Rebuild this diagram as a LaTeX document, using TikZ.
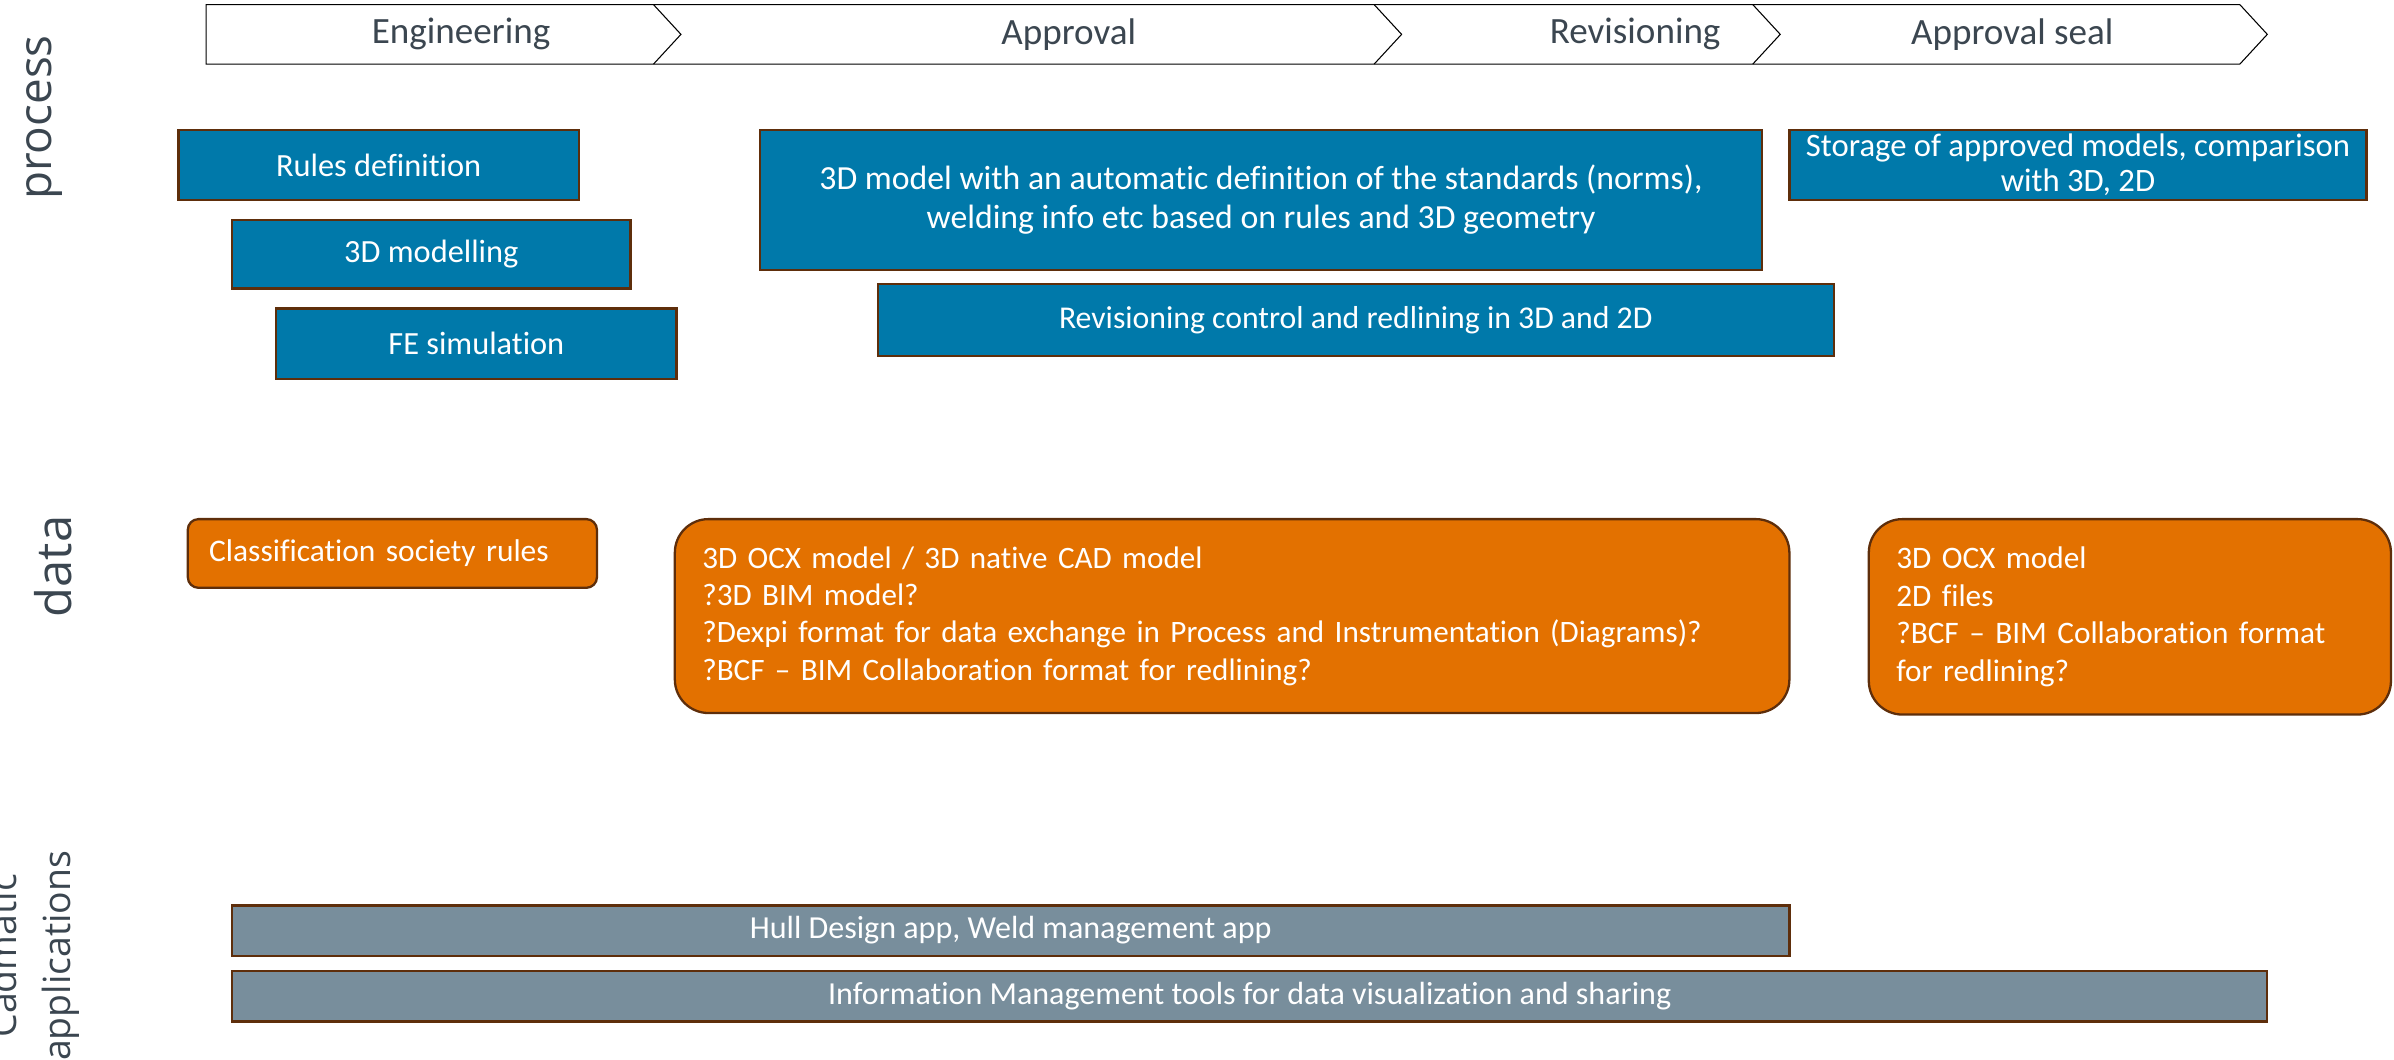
\documentclass[tikz,border=0pt]{standalone}
\usepackage{fontspec}
\setmainfont{Carlito}[Ligatures=NoCommon]
\newfontfamily\lanefont{Open Sans}
\usepackage{xcolor}
\usepackage{tikz}
\usetikzlibrary{positioning}
\definecolor{procblue}{HTML}{0079AA}
\definecolor{dataorange}{HTML}{E37100}
\definecolor{appgray}{HTML}{788E9C}
\definecolor{edgebrown}{HTML}{5E2E0B}
\definecolor{labelgray}{HTML}{3B4650}

\begin{document}
\begin{tikzpicture}[x=1pt, y=-1pt,
  box/.style={draw=edgebrown, line width=1.5pt, text=white, inner sep=0pt, align=center, font=\fontsize{21}{24.5}\selectfont},
  procbox/.style={box, fill=procblue},
  databox/.style={box, fill=dataorange, align=left},
  appbox/.style={box, fill=appgray},
  phase/.style={text=labelgray, inner sep=0pt, font=\fontsize{24.3}{26}\selectfont},
  lane/.style={text=labelgray, inner sep=0pt, rotate=90, align=center, font=\lanefont\fontsize{30}{30}\selectfont}]
\useasboundingbox (0,0) rectangle (1568,694);
\clip (0,0) rectangle (1568,694);

\draw[line width=0.7pt] (135,3) -- (1467,3) -- (1485,22.5) -- (1467,42) -- (135,42) -- cycle;
\foreach \xx in {428,900,1148}
  \draw[line width=0.7pt] (\xx,3) -- (\xx+18,22.5) -- (\xx,42);
\node[phase] (ph_eng) at (302,22.5) {Engineering};
\node[phase] (ph_appr) at (700,22.5) {Approval};
\node[phase] (ph_rev) at (1071,22.5) {Revisioning};
\node[phase] (ph_seal) at (1318,22.5) {Approval seal};

\node[lane] (lane_process) at (29,77) {process};
\node[lane, font=\lanefont\fontsize{32}{32}\selectfont] (lane_data) at (35,371) {data};
\node[lane, font=\lanefont\fontsize{24.5}{35}\selectfont] (lane_apps) at (22,626) {Cadmatic\\applications};

\node[procbox, minimum width=262, minimum height=46, font=\fontsize{21.2}{24}\selectfont] (rules_def) at (248,108) {Rules definition};
\node[procbox, minimum width=261, minimum height=45, font=\fontsize{21.2}{24}\selectfont] (model_3d) at (282.5,166.5) {3D modelling};
\node[procbox, minimum width=262, minimum height=46, font=\fontsize{21.2}{24}\selectfont] (fe_sim) at (312,225) {FE simulation};
\node[procbox, minimum width=656, minimum height=92, font=\fontsize{22.1}{25.5}\selectfont] (auto_def) at (826,131) {3D model with an automatic definition of the standards (norms),\\welding info etc based on rules and 3D geometry};
\node[procbox, minimum width=626, minimum height=47, font=\fontsize{20.8}{24}\selectfont] (rev_ctrl) at (888,209.5) {Revisioning control and redlining in 3D and 2D};
\node[procbox, minimum width=378, minimum height=46, font=\fontsize{21.4}{23}\selectfont] (storage) at (1361,108) {Storage of approved models, comparison\\with 3D, 2D};

\node[databox, rounded corners=7, minimum height=45, text width=240, inner xsep=14, font=\fontsize{20.6}{24.5}\selectfont] (class_rules) at (257,362.5) {Classification society rules};
\node[databox, rounded corners=22, minimum height=127, text width=694, inner xsep=18, font=\fontsize{20.4}{24.5}\selectfont] (ocx_model) at (807,403.5) {3D OCX model / 3D native CAD model\\?3D BIM model?\\?Dexpi format for data exchange in Process and Instrumentation (Diagrams)?\\?BCF – BIM Collaboration format for redlining?};
\node[databox, rounded corners=22, minimum height=128, text width=306, inner xsep=18, font=\fontsize{20.5}{24.5}\selectfont] (ocx_seal) at (1395,404) {3D OCX model\\2D files\\?BCF – BIM Collaboration format\\for redlining?};

\node[appbox, minimum width=1020, minimum height=33] (hull_app) at (662,609.5) {Hull Design app, Weld management app};
\node[appbox, minimum width=1333, minimum height=33] (info_tools) at (818.5,652.5) {Information Management tools for data visualization and sharing};
\end{tikzpicture}
\end{document}
